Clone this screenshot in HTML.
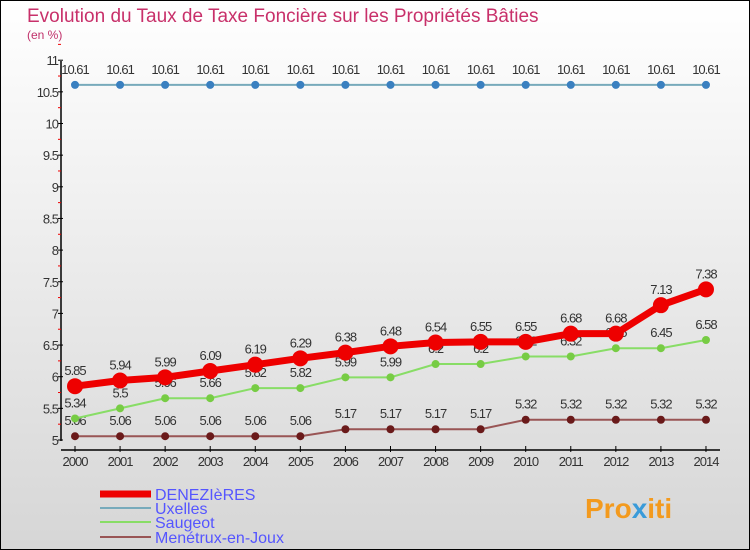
<!DOCTYPE html>
<html><head><meta charset="utf-8"><style>
body{margin:0}
#c{position:relative;width:750px;height:550px;box-sizing:border-box;border:1px solid #000;background:linear-gradient(#fff,#d6d6d6);font-family:"Liberation Sans",sans-serif;overflow:hidden}
</style></head><body>
<div id="c">
<svg id="s" width="750" height="550" style="position:absolute;left:-1px;top:-1px">
<text x="27" y="22" font-size="19" fill="#c8306a">Evolution du Taux de Taxe Foncière sur les Propriétés Bâties</text>
<text x="27" y="39" font-size="12" fill="#c0306a">(en %)</text>
<g id="ax"></g><g id="plot"></g>
<g>
<line x1="100" y1="494" x2="151" y2="494" stroke="#e00" stroke-width="7"/>
<text x="155" y="500" font-size="16" fill="#55f">DENEZIèRES</text>
<line x1="100" y1="508" x2="151" y2="508" stroke="#7ab" stroke-width="2"/>
<text x="155" y="514" font-size="16" fill="#55f">Uxelles</text>
<line x1="100" y1="522" x2="151" y2="522" stroke="#8d6" stroke-width="2"/>
<text x="155" y="528" font-size="16" fill="#55f">Saugeot</text>
<line x1="100" y1="537" x2="151" y2="537" stroke="#955" stroke-width="2"/>
<text x="155" y="543" font-size="16" fill="#55f">Menétrux-en-Joux</text>
</g>
<text x="585" y="518" font-size="28" font-weight="bold" fill="#f39a1e">Pro<tspan fill="#3a9bd9">x</tspan>iti</text>
</svg>
</div>
<script>
const years=[2000,2001,2002,2003,2004,2005,2006,2007,2008,2009,2010,2011,2012,2013,2014];
const deneziers=[5.85,5.94,5.99,6.09,6.19,6.29,6.38,6.48,6.54,6.55,6.55,6.68,6.68,7.13,7.38];
const uxelles=[10.61,10.61,10.61,10.61,10.61,10.61,10.61,10.61,10.61,10.61,10.61,10.61,10.61,10.61,10.61];
const saugeot=[5.34,5.5,5.66,5.66,5.82,5.82,5.99,5.99,6.2,6.2,6.32,6.32,6.45,6.45,6.58];
const menetrux=[5.06,5.06,5.06,5.06,5.06,5.06,5.17,5.17,5.17,5.17,5.32,5.32,5.32,5.32,5.32];
const yTicks=[5,5.5,6,6.5,7,7.5,8,8.5,9,9.5,10,10.5,11];
const NS="http://www.w3.org/2000/svg";
const X=i=>75+i*45.07, Y=v=>440-(v-5)*63.3;
function mk(p,t,a){const e=document.createElementNS(NS,t);for(const k in a)e.setAttribute(k,a[k]);p.appendChild(e);return e;}
const ax=document.getElementById('ax'),pl=document.getElementById('plot');
const yl=mk(ax,'line',{x1:61,y1:61,x2:61,y2:441,stroke:'#000','stroke-width':1.5});


const xl=mk(ax,'line',{x1:61,y1:450,x2:720,y2:450,stroke:'#000','stroke-width':1.5});


yTicks.forEach(v=>{
 mk(ax,'line',{x1:58,y1:Y(v),x2:63,y2:Y(v),stroke:'#000'});
 mk(ax,'line',{x1:58,y1:Y(v+0.25),x2:61,y2:Y(v+0.25),stroke:'#e00'});
 const t=mk(ax,'text',{x:58,y:Y(v)+5,'font-size':13,'text-anchor':'end',fill:'#333','letter-spacing':'-1'});
 t.textContent=v;
 
 
});
years.forEach((y,i)=>{
 mk(ax,'line',{x1:X(i),y1:446,x2:X(i),y2:452,stroke:'#000'});
 const t=mk(ax,'text',{x:X(i),y:466,'font-size':13,'text-anchor':'middle',fill:'#333','letter-spacing':'-1'});
 t.textContent=y;
 
 
});
function series(d,col,dot,w,r,name){
 const g=mk(pl,'g',{});
 
 
 mk(g,'polyline',{points:d.map((v,i)=>X(i)+','+Y(v)).join(' '),fill:'none',stroke:col,'stroke-width':w});
 d.forEach((v,i)=>{
  const c=mk(g,'circle',{cx:X(i),cy:Y(v),r:r,fill:dot});
  
  
  const t=mk(g,'text',{x:X(i),y:Y(v)-11,'font-size':13,'text-anchor':'middle',fill:'#333','letter-spacing':'-1'});
  t.textContent=v;
  
  
 });
}
series(uxelles,'#7ab','#3a80c0',2,4,'uxelles');
series(menetrux,'#955','#6a1a1a',2,4,'menetrux');
series(saugeot,'#8d6','#7c4',2,4,'saugeot');
series(deneziers,'#e00','#e00',7,8,'deneziers');
</script>
</body></html>
